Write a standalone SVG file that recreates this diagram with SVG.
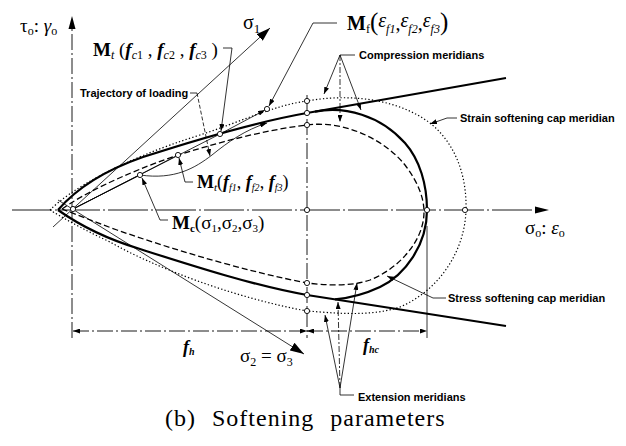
<svg xmlns="http://www.w3.org/2000/svg" width="626" height="446" viewBox="0 0 626 446">
<style>
.thk{fill:none;stroke:#000;stroke-width:2.2;stroke-linejoin:round}
.dsh{fill:none;stroke:#000;stroke-width:1.3;stroke-dasharray:6 3}
.dot{fill:none;stroke:#000;stroke-width:1.2;stroke-dasharray:1.3 2.2}
.thin{fill:none;stroke:#000;stroke-width:0.8}
.dd{fill:none;stroke:#000;stroke-width:0.9;stroke-dasharray:16 3 2 3}
.pt{fill:#fff;stroke:#000;stroke-width:0.9}
.lbl{font-family:"Liberation Sans",Arial,sans-serif;font-size:11px;font-weight:bold;fill:#000}
.m{font-family:"Liberation Serif","Times New Roman",serif;fill:#000}
.b{font-weight:bold}
.i{font-style:italic}
</style>
<defs>
<marker id="ah" viewBox="0 0 7 5" refX="7" refY="2.5" markerWidth="7" markerHeight="5" markerUnits="userSpaceOnUse" orient="auto"><path d="M0,0 L7,2.5 L0,5 z" fill="#000"/></marker>
<marker id="dim" viewBox="0 0 7 5" refX="7" refY="2.5" markerWidth="7" markerHeight="5" markerUnits="userSpaceOnUse" orient="auto-start-reverse"><path d="M0,0 L7,2.5 L0,5 z" fill="#000"/></marker>
<marker id="big" viewBox="0 0 14 9" refX="14" refY="4.5" markerWidth="14" markerHeight="9" markerUnits="userSpaceOnUse" orient="auto"><path d="M0,0 L14,4.5 L0,9 z" fill="#000"/></marker>
</defs>

<g id="axes">
  <path class="dd" d="M12,210 H535" style="stroke-dasharray:40 3 2 3"/>
  <path d="M535,206.5 L549,210 L535,213.5 z" fill="#000"/>
  <path class="dd" d="M72,338 V29"/>
  <path d="M68.5,29 L72,16 L75.5,29 z" fill="#000"/>
  <path class="thin" d="M53,227 L270,28" marker-end="url(#big)"/>
  <path class="thin" d="M58,200 L304,354" marker-end="url(#big)"/>
  <path class="dd" d="M307,95 V338"/>
  <path class="thin" d="M427,226 V338"/>
</g>

<g id="dimensions">
  <path class="dd" d="M73,331 H307" marker-start="url(#dim)" marker-end="url(#dim)"/>
  <path class="dd" d="M307,331 H427" marker-start="url(#dim)" marker-end="url(#dim)"/>
</g>

<g id="meridians">
  <path class="dot" d="M50,210 C70,190 120,160 200,135 C240,122 275,105 307,101 C345,94 395,97 430,123 C455,143 467,175 466,210 C465,250 440,290 400,307 C370,317 335,313 307,311 C230,297 150,265 110,242 C80,228 60,216 50,210"/>
  <path class="dsh" d="M62,209 C80,196 120,175 178,155 C220,142 265,130 307,125 C345,120 385,140 405,165 C418,182 424,198 424,212 C424,240 400,268 370,280 C350,287 325,285 307,283 C250,272 180,252 117,230 C95,222 75,214 62,209"/>
  <path class="thk" d="M58,210 C75,190 100,172 143,157 C180,145 250,123 307,113 L506,78"/>
  <path class="thk" d="M58,210 C75,222 100,237 140,249 C190,265 255,286 307,295 L506,326"/>
  <path class="thk" d="M315,111.6 C345,106 380,115 405,143 C420,160 427,185 427,210 C427,245 405,275 380,287 C365,294 350,298 335,299.4"/>
</g>

<g id="connectors">
  <path class="thin" d="M73,209 L140,175"/>
  <path class="thin" d="M73,209 L178,155"/>
  <path class="thin" d="M73,209 L220,134"/>
  <path class="thin" d="M220,134 L265,110" marker-end="url(#ah)"/>
  <path class="thin" d="M140,175 C175,180 195,168 212,155 C228,142 245,130 267,123" marker-end="url(#ah)"/>
  <path class="thin" d="M337,23 H313 L269,106" marker-end="url(#ah)"/>
  <path class="thin" d="M223,48 H232 L221,131" marker-end="url(#ah)"/>
  <path class="thin" d="M190,93 H197" />
  <path class="thin" d="M197,93 L210,156" style="stroke-dasharray:4 2" marker-end="url(#ah)"/>
  <path class="thin" d="M193,182 H185 L179,158" marker-end="url(#ah)"/>
  <path class="thin" d="M168,220 H160 L142,178" marker-end="url(#ah)"/>
  <path class="thin" d="M355,55 H340 L324,94" marker-end="url(#ah)"/>
  <path class="thin" d="M340,55 V122" style="stroke-dasharray:6 2 2 2" marker-end="url(#ah)"/>
  <path class="thin" d="M340,55 L361,110" marker-end="url(#ah)"/>
  <path class="thin" d="M457,118 H447 L430,124" marker-end="url(#ah)"/>
  <path class="thin" d="M446,298 H433 L387,276" marker-end="url(#ah)"/>
  <path class="thin" d="M354,395 H340 V388 L325,315" marker-end="url(#ah)"/>
  <path class="thin" d="M340,388 L338,302" style="stroke-dasharray:6 2 2 2" marker-end="url(#ah)"/>
  <path class="thin" d="M340,388 L357,283" marker-end="url(#ah)"/>
</g>

<g id="points">
  <circle class="pt" cx="73" cy="209" r="2.6"/>
  <circle class="pt" cx="140" cy="175" r="2.6"/>
  <circle class="pt" cx="178" cy="155" r="2.6"/>
  <circle class="pt" cx="220" cy="134" r="2.6"/>
  <circle class="pt" cx="267" cy="109" r="2.6"/>
  <circle class="pt" cx="307" cy="101" r="2.6"/>
  <circle class="pt" cx="307" cy="113" r="2.6"/>
  <circle class="pt" cx="307" cy="125" r="2.6"/>
  <circle class="pt" cx="307" cy="210" r="2.6"/>
  <circle class="pt" cx="427" cy="210" r="2.6"/>
  <circle class="pt" cx="465" cy="210" r="2.6"/>
  <circle class="pt" cx="307" cy="283" r="2.6"/>
  <circle class="pt" cx="307" cy="295" r="2.6"/>
  <circle class="pt" cx="307" cy="311" r="2.6"/>
</g>

<g id="label-tau">
  <text class="m" x="20" y="32" font-size="19">τ<tspan font-size="12" dy="3">o</tspan><tspan dy="-3">: </tspan><tspan class="i">γ</tspan><tspan font-size="12" dy="3">o</tspan></text>
</g>
<g id="label-sigma1">
  <text class="m" x="243" y="29" font-size="20">σ<tspan font-size="13" dy="4">1</tspan></text>
</g>
<g id="label-Mtc">
  <text class="m" x="93" y="56" font-size="19"><tspan class="b">M</tspan><tspan class="i" font-size="12" dy="3">t</tspan><tspan dy="-3"> (</tspan><tspan class="i b">f</tspan><tspan class="i" font-size="12" dy="3">c</tspan><tspan font-size="12">1</tspan><tspan dy="-3"> , </tspan><tspan class="i b">f</tspan><tspan class="i" font-size="12" dy="3">c</tspan><tspan font-size="12">2</tspan><tspan dy="-3"> , </tspan><tspan class="i b">f</tspan><tspan class="i" font-size="12" dy="3">c</tspan><tspan font-size="12">3</tspan><tspan dy="-3"> )</tspan></text>
</g>
<g id="label-trajectory">
  <text class="lbl" x="80" y="97" font-size="10.5">Trajectory of loading</text>
</g>
<g id="label-Mfe">
  <text class="m" x="347" y="30" font-size="20"><tspan class="b">M</tspan><tspan font-size="12" dy="3">f</tspan><tspan dy="-3" font-size="25">(</tspan><tspan class="i" dy="-3">ε</tspan><tspan class="i" font-size="12" dy="6">f1</tspan><tspan dy="-3">,</tspan><tspan class="i" dy="-3">ε</tspan><tspan class="i" font-size="12" dy="6">f2</tspan><tspan dy="-3">,</tspan><tspan class="i" dy="-3">ε</tspan><tspan class="i" font-size="12" dy="6">f3</tspan><tspan dy="-3" font-size="25">)</tspan></text>
</g>
<g id="label-compression">
  <text class="lbl" x="359" y="59">Compression meridians</text>
</g>
<g id="label-strain">
  <text class="lbl" x="460" y="122">Strain softening cap meridian</text>
</g>
<g id="label-Mtf">
  <text class="m" x="197" y="188" font-size="18"><tspan class="b">M</tspan><tspan class="i" font-size="11" dy="3">t</tspan><tspan dy="-3">(</tspan><tspan class="i b">f</tspan><tspan class="i" font-size="10" dy="3">f1</tspan><tspan dy="-3">, </tspan><tspan class="i b">f</tspan><tspan class="i" font-size="10" dy="3">f2</tspan><tspan dy="-3">, </tspan><tspan class="i b">f</tspan><tspan class="i" font-size="10" dy="3">f3</tspan><tspan dy="-3">)</tspan></text>
</g>
<g id="label-Mc">
  <text class="m" x="172" y="229" font-size="19"><tspan class="b">M</tspan><tspan class="b" font-size="11" dy="3">c</tspan><tspan dy="-3">(σ</tspan><tspan font-size="11" dy="3">1</tspan><tspan dy="-3">,σ</tspan><tspan font-size="11" dy="3">2</tspan><tspan dy="-3">,σ</tspan><tspan font-size="11" dy="3">3</tspan><tspan dy="-3">)</tspan></text>
</g>
<g id="label-sigmao">
  <text class="m" x="525" y="234" font-size="19">σ<tspan font-size="12" dy="3">o</tspan><tspan dy="-3">: </tspan><tspan class="i">ε</tspan><tspan font-size="12" dy="3">o</tspan></text>
</g>
<g id="label-stress">
  <text class="lbl" x="448" y="302">Stress softening cap meridian</text>
</g>
<g id="label-fh">
  <text class="m i b" x="183" y="353" font-size="18">f<tspan font-size="10" dy="2">h</tspan></text>
</g>
<g id="label-sigma23">
  <text class="m" x="240" y="362" font-size="19">σ<tspan font-size="12" dy="4">2</tspan><tspan dy="-4"> = σ</tspan><tspan font-size="12" dy="4">3</tspan></text>
</g>
<g id="label-fhc">
  <text class="m i b" x="363" y="351" font-size="18">f<tspan font-size="10" dy="2">hc</tspan></text>
</g>
<g id="label-extension">
  <text class="lbl" x="358" y="401">Extension meridians</text>
</g>
<g id="caption">
  <text class="m" x="165" y="426" font-size="24" letter-spacing="1" word-spacing="9">(b) Softening parameters</text>
</g>
</svg>
